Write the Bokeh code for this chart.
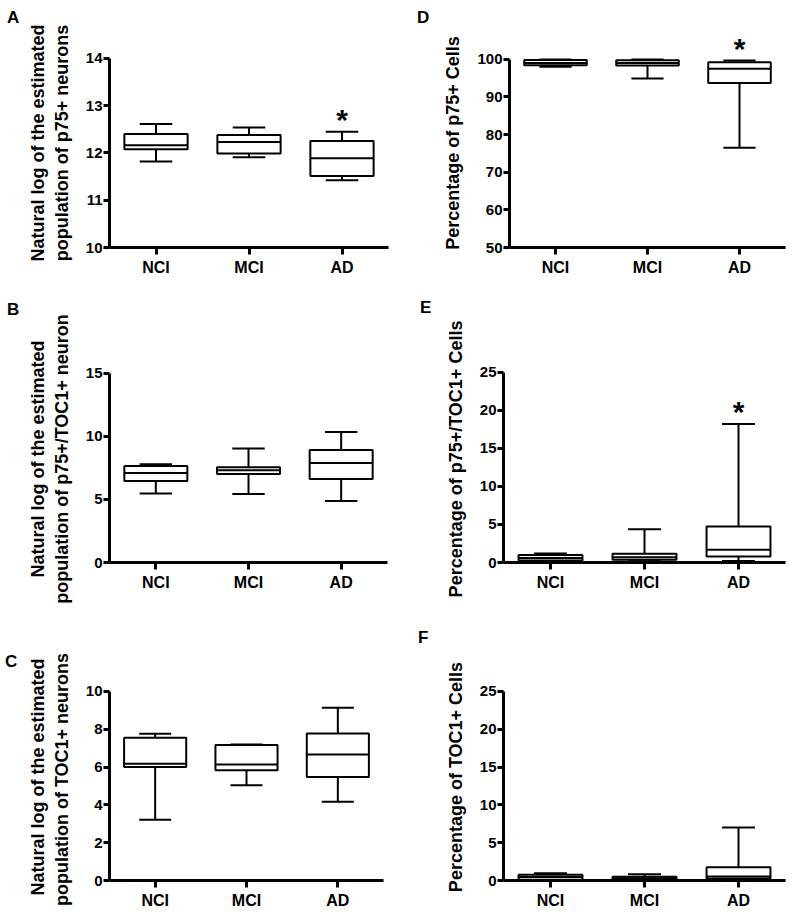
from bokeh.plotting import figure
from bokeh.layouts import column, row
from bokeh.models import Range1d, FixedTicker, ColumnDataSource, Div
from bokeh.core.properties import value
from bokeh.embed import file_html
from bokeh.resources import INLINE

FONT = "Liberation Sans"

groups = ["NCI", "MCI", "AD"]

# Panel A: natural log of p75+ neurons
a_low = [11.82, 11.91, 11.42]
a_q1 = [12.08, 11.99, 11.51]
a_med = [12.16, 12.23, 11.89]
a_q3 = [12.40, 12.38, 12.25]
a_high = [12.61, 12.54, 12.45]
a_sig = [False, False, True]
a_ticks = [10, 11, 12, 13, 14]

# Panel B: natural log of p75+/TOC1+ neurons
b_low = [5.46, 5.43, 4.88]
b_q1 = [6.46, 7.01, 6.62]
b_med = [7.09, 7.30, 7.88]
b_q3 = [7.64, 7.54, 8.91]
b_high = [7.78, 9.04, 10.33]
b_sig = [False, False, False]
b_ticks = [0, 5, 10, 15]

# Panel C: natural log of TOC1+ neurons
c_low = [3.22, 5.04, 4.17]
c_q1 = [6.00, 5.83, 5.48]
c_med = [6.18, 6.14, 6.67]
c_q3 = [7.55, 7.17, 7.78]
c_high = [7.76, 7.19, 9.14]
c_sig = [False, False, False]
c_ticks = [0, 2, 4, 6, 8, 10]

# Panel D: percentage of p75+ cells
d_low = [98.0, 94.9, 76.5]
d_q1 = [98.4, 98.3, 93.7]
d_med = [99.0, 99.0, 97.45]
d_q3 = [99.8, 99.7, 99.2]
d_high = [99.9, 99.9, 99.65]
d_sig = [False, False, True]
d_ticks = [50, 60, 70, 80, 90, 100]

# Panel E: percentage of p75+/TOC1+ cells
e_low = [0.1, 0.15, 0.2]
e_q1 = [0.25, 0.35, 0.79]
e_med = [0.6, 0.7, 1.67]
e_q3 = [1.0, 1.14, 4.73]
e_high = [1.18, 4.38, 18.2]
e_sig = [False, False, True]
e_ticks = [0, 5, 10, 15, 20, 25]

# Panel F: percentage of TOC1+ cells
f_low = [0.05, 0.05, 0.05]
f_q1 = [0.1, 0.1, 0.26]
f_med = [0.45, 0.3, 0.53]
f_q3 = [0.75, 0.5, 1.76]
f_high = [0.97, 0.83, 7.0]
f_sig = [False, False, False]
f_ticks = [0, 5, 10, 15, 20, 25]


def panel(ylabel, low, q1, med, q3, high, sig, ticks, y_end,
          W, H, bl, fw, bt, bb):
    xs = [i + 1 for i in range(len(groups))]
    p = figure(width=W, height=H, output_backend="svg", toolbar_location=None,
               tools="", x_range=Range1d(0.5, len(groups) + 0.5),
               y_range=Range1d(ticks[0], y_end),
               min_border_left=bl, min_border_right=W - bl - fw,
               min_border_top=bt, min_border_bottom=bb)
    p.outline_line_color = None
    p.xgrid.visible = False
    p.ygrid.visible = False
    p.background_fill_color = "white"
    p.border_fill_color = "white"

    bw = 0.68
    cw = 0.35
    src = ColumnDataSource(dict(
        x=xs, low=low, q1=q1, med=med, q3=q3, high=high,
        xl=[x - bw / 2 for x in xs], xr=[x + bw / 2 for x in xs],
        cl=[x - cw / 2 for x in xs], cr=[x + cw / 2 for x in xs]))
    lw = 2
    p.segment(x0="x", y0="q3", x1="x", y1="high", source=src, line_color="black", line_width=lw)
    p.segment(x0="x", y0="q1", x1="x", y1="low", source=src, line_color="black", line_width=lw)
    p.segment(x0="cl", y0="high", x1="cr", y1="high", source=src, line_color="black", line_width=lw)
    p.segment(x0="cl", y0="low", x1="cr", y1="low", source=src, line_color="black", line_width=lw)
    p.vbar(x="x", width=bw, bottom="q1", top="q3", source=src,
           fill_color="white", line_color="black", line_width=lw)
    p.segment(x0="xl", y0="med", x1="xr", y1="med", source=src, line_color="black", line_width=lw)

    sx = [x for x, s in zip(xs, sig) if s]
    sy = [h for h, s in zip(high, sig) if s]
    if sx:
        p.text(x=sx, y=sy, text=["*"] * len(sx), text_font=value(FONT),
               text_font_style="bold", text_font_size="30px",
               text_align="center", text_baseline="alphabetic", y_offset=-12,
               text_color="black")

    for ax in (p.xaxis[0], p.yaxis[0]):
        ax.axis_line_width = 3
        ax.axis_line_color = "black"
        ax.major_tick_line_width = 3
        ax.major_tick_line_color = "black"
        ax.major_tick_in = 0
        ax.minor_tick_line_color = None
        ax.major_label_text_font = FONT
        ax.major_label_text_font_style = "bold"
        ax.major_label_text_color = "black"

    xa = p.xaxis[0]
    xa.ticker = FixedTicker(ticks=xs)
    xa.major_label_overrides = {x: g for x, g in zip(xs, groups)}
    xa.major_tick_out = 7
    xa.major_label_standoff = 4
    xa.major_label_text_font_size = "16px"

    ya = p.yaxis[0]
    ya.ticker = FixedTicker(ticks=ticks)
    ya.bounds = (ticks[0], ticks[-1])
    ya.major_tick_out = 6
    ya.major_label_standoff = 1
    ya.major_label_text_font_size = "15px"
    ya.axis_label = ylabel
    ya.axis_label_text_font = FONT
    ya.axis_label_text_font_style = "bold"
    ya.axis_label_text_font_size = "18px"
    ya.axis_label_text_color = "black"
    ya.axis_label_standoff = 11
    return p


def letters(items, W, H):
    spans = "".join(
        f'<span style="position:absolute;left:{x}px;top:{y}px;">{t}</span>'
        for t, x, y in items)
    html = (f'<div style="position:relative;width:{W}px;height:{H}px;'
            f'font-family:\'{FONT}\';font-weight:bold;font-size:17px;'
            f'line-height:17px;color:black;">{spans}</div>')
    return Div(text=html, width=W, height=H, margin=0)


H1, H2, H3 = 298, 310, 307
WL, WP1, WM, WP2 = 24, 378, 38, 350

pA = panel("Natural log of the estimated\npopulation of p75+ neurons",
           a_low, a_q1, a_med, a_q3, a_high, a_sig, a_ticks, 14.42,
           WP1, H1, 81, 283, 38, 51)
pD = panel("Percentage of p75+ Cells",
           d_low, d_q1, d_med, d_q3, d_high, d_sig, d_ticks, 105.5,
           WP2, H1, 65, 280, 38, 51)
pB = panel("Natural log of the estimated\npopulation of p75+/TOC1+ neuron",
           b_low, b_q1, b_med, b_q3, b_high, b_sig, b_ticks, 16.40,
           WP1, H2, 78, 285, 57, 46)
pE = panel("Percentage of p75+/TOC1+ Cells",
           e_low, e_q1, e_med, e_q3, e_high, e_sig, e_ticks, 27.19,
           WP2, H2, 63, 282, 57, 46)
pC = panel("Natural log of the estimated\npopulation of  TOC1+ neurons",
           c_low, c_q1, c_med, c_q3, c_high, c_sig, c_ticks, 10.95,
           WP1, H3, 76, 283, 65, 35)
pF = panel("Percentage of TOC1+ Cells",
           f_low, f_q1, f_med, f_q3, f_high, f_sig, f_ticks, 27.38,
           WP2, H3, 63, 282, 65, 35)

layout = column(
    row(letters([("A", 7, 9)], WL, H1), pA, letters([("D", 15, 9)], WM, H1), pD),
    row(letters([("B", 7, 3)], WL, H2), pB, letters([("E", 18, 1)], WM, H2), pE),
    row(letters([("C", 5, 45)], WL, H3), pC, letters([("F", 16, 21)], WM, H3), pF),
)

open("out.html", "w").write(file_html(layout, INLINE))
